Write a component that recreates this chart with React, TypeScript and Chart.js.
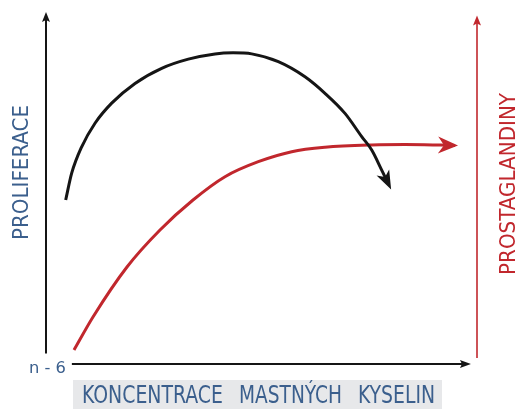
import React, { useEffect, useRef } from "react";
import { Chart, registerables } from "chart.js";

Chart.register(...registerables);

// Abstract units: x 0..100 (left axis -> right axis), y 0..100 (bottom -> top)
const proliferaceX = [4.57, 5.96, 8.28, 11.37, 15.24, 20.65, 26.84, 33.02, 39.21, 43.39, 47.73, 53.9, 60.09, 64.73, 69.37, 73.25, 75.57, 77.89, 79.47];
const proliferaceY = [46.6, 54.2, 61.7, 68.4, 74.1, 79.7, 84.0, 86.6, 88.1, 88.4, 88.1, 85.9, 81.6, 76.9, 71.2, 64.6, 60.8, 55.1, 51.1];

const prostaglandinyX = [6.5, 10.9, 18.79, 26.45, 34.11, 41.53, 49.26, 57.01, 64.73, 75.57, 83.29, 91.42, 94.9];
const prostaglandinyY = [3.98, 13.35, 27.56, 38.07, 46.59, 53.21, 57.47, 60.31, 61.56, 62.22, 62.35, 62.2, 62.1];

// axis extents in the same units
const leftAxisY = [3, 100];
const rightAxisY = [1.7, 99];
const bottomAxisX = [6, 98.6];

const labelWords = ["KONCENTRACE", "MASTNÝCH", "KYSELIN"];
const leftTitle = "PROLIFERACE";
const rightTitle = "PROSTAGLANDINY";
const originLabel = "n - 6";

const BLUE = "#3b5f8d";
const RED = "#c1272d";
const BLACK = "#151515";
const FONT = "'Liberation Sans Narrow', 'DejaVu Sans Condensed', 'Open Sans', sans-serif";

function drawArrowHead(
  ctx: CanvasRenderingContext2D,
  tx: number,
  ty: number,
  angle: number,
  len: number,
  width: number,
  notch: number,
  color: string
) {
  ctx.save();
  ctx.translate(tx, ty);
  ctx.rotate(angle);
  ctx.beginPath();
  ctx.moveTo(0, 0);
  ctx.lineTo(-len, -width / 2);
  ctx.lineTo(-len + notch, 0);
  ctx.lineTo(-len, width / 2);
  ctx.closePath();
  ctx.fillStyle = color;
  ctx.fill();
  ctx.restore();
}

function fitText(
  ctx: CanvasRenderingContext2D,
  text: string,
  x: number,
  y: number,
  targetW: number,
  size: number,
  color: string,
  rotate: boolean,
  align: "left" | "center"
) {
  ctx.save();
  ctx.translate(x, y);
  if (rotate) ctx.rotate(-Math.PI / 2);
  ctx.font = `${size}px ${FONT}`;
  const w = ctx.measureText(text).width;
  ctx.scale(targetW / w, 1);
  ctx.textAlign = align;
  ctx.textBaseline = "alphabetic";
  ctx.fillStyle = color;
  ctx.fillText(text, 0, 0);
  ctx.restore();
}

const decorPlugin = {
  id: "decor",
  afterDatasetsDraw(chart: any) {
    const ctx: CanvasRenderingContext2D = chart.ctx;
    const xs = chart.scales.x;
    const ys = chart.scales.y;
    const px = (v: number) => xs.getPixelForValue(v);
    const py = (v: number) => ys.getPixelForValue(v);

    // axes
    ctx.save();
    ctx.lineCap = "butt";
    ctx.strokeStyle = BLACK;
    ctx.lineWidth = 2;
    ctx.beginPath();
    ctx.moveTo(px(0), py(leftAxisY[0]));
    ctx.lineTo(px(0), py(leftAxisY[1]) + 6);
    ctx.stroke();
    drawArrowHead(ctx, px(0), py(leftAxisY[1]), -Math.PI / 2, 10, 8, 2, BLACK);

    ctx.beginPath();
    ctx.moveTo(px(bottomAxisX[0]), py(0));
    ctx.lineTo(px(bottomAxisX[1]) - 6, py(0));
    ctx.stroke();
    drawArrowHead(ctx, px(bottomAxisX[1]), py(0), 0, 11, 8, 2, BLACK);

    ctx.strokeStyle = RED;
    ctx.lineWidth = 1.6;
    ctx.beginPath();
    ctx.moveTo(px(100), py(rightAxisY[0]));
    ctx.lineTo(px(100), py(rightAxisY[1]) + 6);
    ctx.stroke();
    drawArrowHead(ctx, px(100), py(rightAxisY[1]), -Math.PI / 2, 10, 8, 2, RED);
    ctx.restore();

    // curve arrowheads
    const heads = [
      { idx: 0, color: BLACK, len: 19, width: 14, notch: 5, ext: 6 },
      { idx: 1, color: RED, len: 20, width: 17, notch: 6, ext: 3 },
    ];
    heads.forEach((h) => {
      const meta = chart.getDatasetMeta(h.idx);
      const pts = meta.data;
      const last = pts[pts.length - 1];
      const prev = pts[pts.length - 2];
      let dx = last.x - (last.cp1x ?? prev.x);
      let dy = last.y - (last.cp1y ?? prev.y);
      if (Math.hypot(dx, dy) < 0.5) {
        dx = last.x - prev.x;
        dy = last.y - prev.y;
      }
      const a = Math.atan2(dy, dx);
      const tx = last.x + Math.cos(a) * h.ext;
      const ty = last.y + Math.sin(a) * h.ext;
      drawArrowHead(ctx, tx, ty, a, h.len, h.width, h.notch, h.color);
    });

    // titles
    fitText(ctx, leftTitle, 28, 172.5, 135, 22, BLUE, true, "center");
    fitText(ctx, rightTitle, 515, 184, 182, 21, RED, true, "center");
    fitText(ctx, originLabel, 29, 373, 37, 15, BLUE, false, "left");

    // x label box
    ctx.save();
    ctx.fillStyle = "#e7e8ea";
    ctx.fillRect(73, 380, 369, 29);
    ctx.restore();
    const starts = [82, 239, 358];
    const widths = [141, 103, 77];
    labelWords.forEach((w, i) => {
      fitText(ctx, w, starts[i], 403, widths[i], 25, BLUE, false, "left");
    });
  },
};

export default function App() {
  const ref = useRef<HTMLCanvasElement | null>(null);
  useEffect(() => {
    if (!ref.current) return;
    const chart = new Chart(ref.current, {
      type: "line",
      data: {
        datasets: [
          {
            label: leftTitle,
            data: proliferaceX.map((x, i) => ({ x, y: proliferaceY[i] })),
            borderColor: BLACK,
            borderWidth: 3,
            pointRadius: 0,
            cubicInterpolationMode: "monotone",
            fill: false,
          },
          {
            label: rightTitle,
            data: prostaglandinyX.map((x, i) => ({ x, y: prostaglandinyY[i] })),
            borderColor: RED,
            borderWidth: 3,
            pointRadius: 0,
            cubicInterpolationMode: "monotone",
            fill: false,
          },
        ],
      },
      options: {
        animation: false,
        responsive: false,
        devicePixelRatio: 1,
        layout: { padding: { left: 46, right: 41, top: 12, bottom: 45 } },
        plugins: { legend: { display: false }, tooltip: { enabled: false } },
        scales: {
          x: { type: "linear", min: 0, max: 100, display: false },
          y: { type: "linear", min: 0, max: 100, display: false },
        },
      },
      plugins: [decorPlugin],
    });
    return () => chart.destroy();
  }, []);
  return (
    <div style={{ position: "fixed", left: 0, top: 0, width: 518, height: 409, background: "#fff" }}>
      <canvas ref={ref} width={518} height={409} style={{ display: "block" }} />
    </div>
  );
}
